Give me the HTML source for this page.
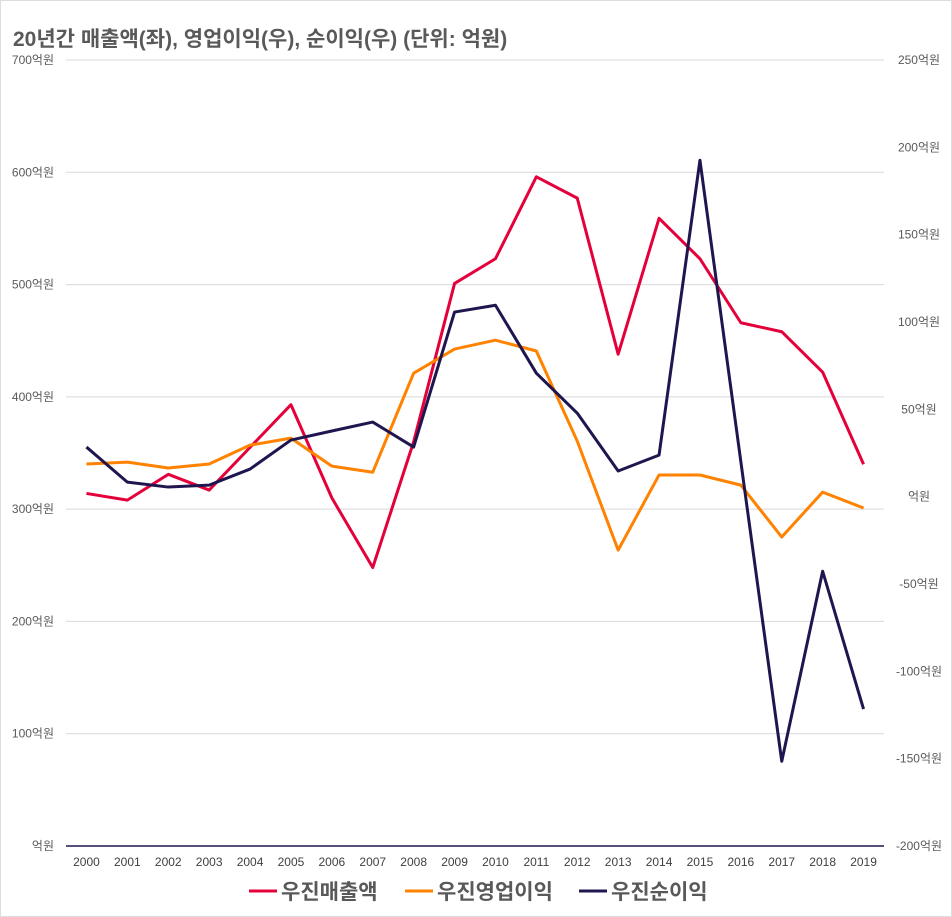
<!DOCTYPE html>
<html><head><meta charset="utf-8"><style>
body{margin:0;background:#fff;font-family:"Liberation Sans","Noto Sans CJK KR",sans-serif;}
#wrap{position:relative;width:952px;height:917px;overflow:hidden;border:1px solid #ddd;box-sizing:border-box;}
</style></head><body>
<div id="wrap">
<svg id="chart" width="952" height="917"></svg>
</div>
<script>
const years=["2000","2001","2002","2003","2004","2005","2006","2007","2008","2009","2010","2011","2012","2013","2014","2015","2016","2017","2018","2019"];
const sales=[314,308,331,317,355,393,310,248,360,501,523,596,577,438,559,523,466,458,422,340];
const opProfit=[18.7,19.8,16.4,18.7,29.5,33.5,17.5,14,70.7,84.5,89.6,83.4,31.8,-30.6,12.4,12.4,6.6,-23.1,2.6,-6.5];
const netProfit=[28.4,8.3,5.5,6.6,15.8,32.4,37.6,42.7,28.4,105.7,109.6,70.7,47.8,14.7,23.8,192.6,20,-151.5,-42.7,-121.6];
const leftTicks=[0,100,200,300,400,500,600,700];
const rightTicks=[-200,-150,-100,-50,0,50,100,150,200,250];
const NS="http://www.w3.org/2000/svg";
const svg=document.getElementById('chart');
const X0=65,X1=883,Y0=845,Y1=59;
const band=(X1-X0)/years.length;
const x=i=>X0+band*(i+0.5);
const yL=v=>Y0-(v/700)*(Y0-Y1);
const yR=v=>Y0-((v+200)/450)*(Y0-Y1);
function mk(t,a,txt){const e=document.createElementNS(NS,t);for(const k in a)e.setAttribute(k,a[k]);if(txt!==undefined)e.textContent=txt;svg.appendChild(e);return e;}
const title=mk('text',{x:12,y:45,'font-size':21,'font-weight':'bold',fill:'#595959'},'20년간 매출액(좌), 영업이익(우), 순이익(우) (단위: 억원)');


leftTicks.forEach(v=>{
  if(v>0){const g=mk('line',{x1:X0,x2:X1,y1:yL(v),y2:yL(v),stroke:'#d9d9d9','stroke-width':1});
  
  }
  const t=mk('text',{x:X0-12,y:yL(v)+4,'font-size':12,fill:'#595959','text-anchor':'end'},(v===0?'':v)+'억원');
  
  
});
rightTicks.forEach(v=>{
  const t=mk('text',{x:918,y:yR(v)+4,'font-size':12,fill:'#595959','text-anchor':'middle'},(v===0?'':v)+'억원');
  
  
});
const ax=mk('line',{x1:X0,x2:X1,y1:Y0,y2:Y0,stroke:'#1f1650','stroke-width':1.5});


years.forEach((yr,i)=>{
  const t=mk('text',{x:x(i),y:865,'font-size':12,fill:'#404040','text-anchor':'middle'},yr);
  
  
});
function line(data,fy,color,name){
  const p=mk('polyline',{points:data.map((v,i)=>x(i)+','+fy(v)).join(' '),fill:'none',stroke:color,'stroke-width':3,'stroke-linejoin':'round'});
  
  
}
line(sales,yL,'#e4003b','sales-line');
line(opProfit,yR,'#ff8200','operating-profit-line');
line(netProfit,yR,'#1f1650','net-profit-line');
const legend=[['우진매출액','#e4003b',248],['우진영업이익','#ff8200',404],['우진순이익','#1f1650',578]];
legend.forEach(([n,c,lx])=>{
  const l=mk('line',{x1:lx,x2:lx+28,y1:890,y2:890,stroke:c,'stroke-width':3});
  
  
  const t=mk('text',{x:lx+32,y:898,'font-size':21,'font-weight':'bold',fill:'#595959'},n);
  
  
});
</script>
</body></html>
